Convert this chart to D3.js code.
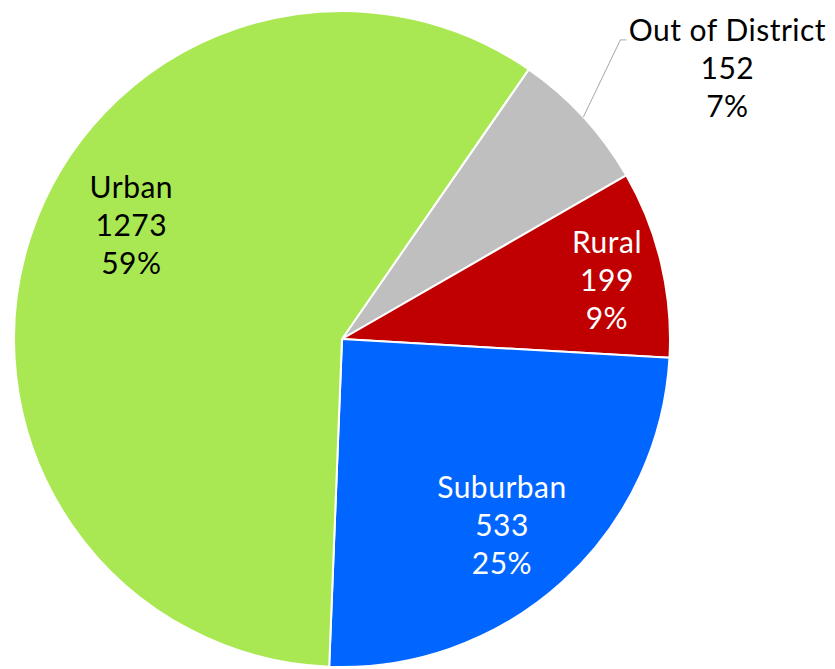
<!DOCTYPE html>
<html lang="en">
<head>
  <meta charset="UTF-8">
  <title>Students by Locale</title>
  <script src="https://d3js.org/d3.v7.min.js"></script>
  <style>
    body { margin: 0; padding: 0; background: #fff; }
    svg { display: block; }
    .lbl { font-family: Lato, "Open Sans", sans-serif; font-size: 30px; letter-spacing: 0.5px; }
  </style>
</head>
<body>
<svg id="chart" width="835" height="669"></svg>
<script>
  // data, in drawing order (clockwise from the first slice)
  const categories = ["Out of District", "Rural", "Suburban", "Urban"];
  const counts = [152, 199, 533, 1273];
  const colors = ["#bfbfbf", "#c00000", "#0066ff", "#a9e852"];
  const textColors = ["#000", "#fff", "#fff", "#000"];

  const width = 835, height = 669;
  const cx = 342, cy = 339, radius = 328;
  const startDeg = 34.7;

  // small nudges for the label blocks (px) from the centroid at 0.78R
  const nudge = [[0, 0], [16, 0], [-12, -3], [32, -33]];

  const total = d3.sum(counts);
  const rows = categories.map((c, i) => ({ name: c, value: counts[i], i }));

  const svg = d3.select("#chart");
  const g = svg.append("g").attr("transform", `translate(${cx},${cy})`);

  const start = startDeg * Math.PI / 180;
  const pie = d3.pie().sort(null).value(d => d.value)
    .startAngle(start).endAngle(start + 2 * Math.PI);
  const arcs = pie(rows);

  const arc = d3.arc().innerRadius(0).outerRadius(radius);
  const labelArc = d3.arc().innerRadius(radius * 0.78).outerRadius(radius * 0.78);
  const edgeArc = d3.arc().innerRadius(radius).outerRadius(radius);

  g.selectAll("path.slice")
    .data(arcs)
    .enter().append("path")
      .attr("class", "slice")
      .attr("d", arc)
      .attr("fill", d => colors[d.data.i])
      .attr("stroke", "#fff")
      .attr("stroke-width", 2)
      .attr("stroke-linejoin", "round");

  const fmtPct = v => Math.round(v / total * 100) + "%";
  const lineH = 38;

  arcs.forEach(d => {
    const i = d.data.i;
    let x, y;
    if (i === 0) {
      // outside label with a leader line
      const p = edgeArc.centroid(d);
      const elbow = [p[0] + 37, p[1] - 77];
      const end = [elbow[0] + 6, elbow[1]];
      g.append("polyline")
        .attr("points", [p, elbow, end].map(q => q.join(",")).join(" "))
        .attr("fill", "none")
        .attr("stroke", "#a6a6a6")
        .attr("stroke-width", 1);
      x = end[0] + 101;
      y = elbow[1] + 28;
    } else {
      const c = labelArc.centroid(d);
      x = c[0] + nudge[i][0];
      y = c[1] + nudge[i][1];
    }
    const t = g.append("text")
      .attr("class", "lbl")
      .attr("text-anchor", "middle")
      .attr("fill", textColors[i]);
    [d.data.name, d.data.value, fmtPct(d.data.value)].forEach((s, k) => {
      t.append("tspan")
        .attr("x", x)
        .attr("y", y + (k - 1) * lineH + 11)
        .text(s);
    });
  });
</script>
</body>
</html>
